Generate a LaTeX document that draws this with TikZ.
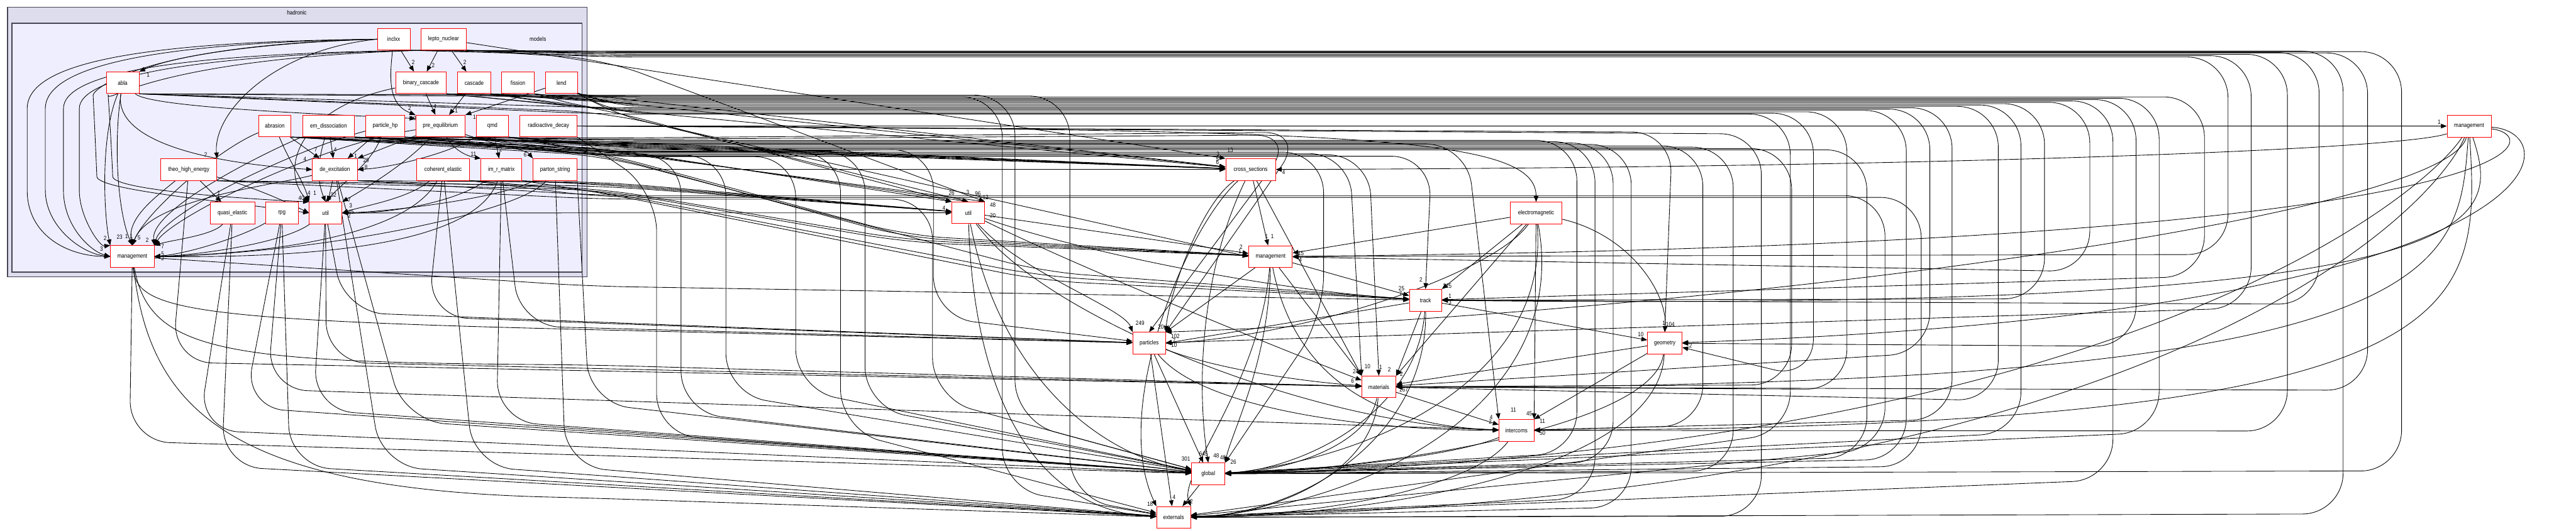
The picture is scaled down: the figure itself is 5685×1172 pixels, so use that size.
\documentclass[tikz,border=0pt]{standalone}
\usepackage{fontspec}
\setmainfont{Liberation Sans}
\newfontfamily\gfont[FakeStretch=0.85]{Liberation Sans}
\usetikzlibrary{arrows.meta}
\pgfdeclarelayer{bg}
\pgfdeclarelayer{edges}
\pgfsetlayers{bg,edges,main}
\definecolor{hadfill}{HTML}{DDDDEE}
\definecolor{modfill}{HTML}{EEEEFF}
\definecolor{clborder}{HTML}{444455}
\tikzset{
  dirnode/.style={draw=red, line width=1.2pt, fill=white, minimum height=48pt, inner sep=0pt, font=\gfont\fontsize{13.3}{15}\selectfont},
  dep/.style={draw=black, line width=1.2pt, -{Triangle[length=13pt,width=10pt]}, rounded corners=90pt},
  cnt/.style={font=\gfont\fontsize{13.3}{15}\selectfont, inner sep=0pt},
}
\newcommand\laneA[5]{\draw[dep] (#1) -- (1330,#2) -- (#3,#2) -- (#3,#4) -- (#5);}
\begin{document}
\begin{tikzpicture}[x=1pt,y=-1pt]
\useasboundingbox (0,0) rectangle (5685,1172);
\begin{pgfonlayer}{bg}
\fill[white] (0,0) rectangle (5685,1172);
\draw[fill=hadfill, draw=clborder, line width=1.8pt] (16.6,15.8) rectangle (1295.6,611);
\draw[fill=modfill, draw=clborder, line width=1.8pt] (26.5,51.4) rectangle (1284.8,601);
\end{pgfonlayer}
\node[cnt] (tHad) at (655,28) {hadronic};
\node[cnt] (tMod) at (1187,86) {models};
% models nodes
\node[dirnode, minimum width=72pt] (ix) at (869,86.6) {inclxx};
\node[dirnode, minimum width=99pt] (ln) at (979,86.6) {lepto\_nuclear};
\node[dirnode, minimum width=72pt] (ab) at (270.7,182.7) {abla};
\node[dirnode, minimum width=112pt] (bc) at (929,182.7) {binary\_cascade};
\node[dirnode, minimum width=73pt] (ca) at (1046.5,182.7) {cascade};
\node[dirnode, minimum width=72pt] (fi) at (1143,182.7) {fission};
\node[dirnode, minimum width=71pt] (le) at (1239,182.7) {lend};
\node[dirnode, minimum width=72pt] (as) at (606.5,278.3) {abrasion};
\node[dirnode, minimum width=115pt] (ed) at (725,278.3) {em\_dissociation};
\node[dirnode, minimum width=85pt] (hp) at (850,278.3) {particle\_hp};
\node[dirnode, minimum width=109pt] (pe) at (972,278.3) {pre\_equilibrium};
\node[dirnode, minimum width=72pt] (qm) at (1086.6,278.3) {qmd};
\node[dirnode, minimum width=126pt] (rd) at (1210.6,278.3) {radioactive\_decay};
\node[dirnode, minimum width=123pt] (th) at (416.7,374.5) {theo\_high\_energy};
\node[dirnode, minimum width=99pt] (de) at (739,374.5) {de\_excitation};
\node[dirnode, minimum width=117pt] (ce) at (978,374.5) {coherent\_elastic};
\node[dirnode, minimum width=90pt] (im) at (1106.6,374.5) {im\_r\_matrix};
\node[dirnode, minimum width=97pt] (ps) at (1225,374.5) {parton\_string};
\node[dirnode, minimum width=99pt] (qe) at (513,470.4) {quasi\_elastic};
\node[dirnode, minimum width=72pt] (rp) at (622,470.4) {rpg};
\node[dirnode, minimum width=72pt] (um) at (718.5,470.4) {util};
\node[dirnode, minimum width=96pt] (mm) at (292,566.5) {management};
% outer nodes
\node[dirnode, minimum width=72pt] (uh) at (2137,470) {util};
\node[dirnode, minimum width=110pt] (xs) at (2760,374.5) {cross\_sections};
\node[dirnode, minimum width=96pt] (mh) at (2804,566.7) {management};
\node[dirnode, minimum width=114pt] (em) at (3390,470.6) {electromagnetic};
\node[dirnode, minimum width=71pt] (tr) at (3146,663) {track};
\node[dirnode, minimum width=72pt] (pa) at (2536,758) {particles};
\node[dirnode, minimum width=76pt] (ge) at (3674,758) {geometry};
\node[dirnode, minimum width=75pt] (ma) at (3043,854.4) {materials};
\node[dirnode, minimum width=77pt] (ic) at (3346.6,950.5) {intercoms};
\node[dirnode, minimum width=73pt] (gl) at (2666.5,1046.5) {global};
\node[dirnode, minimum width=75pt] (ex) at (2590,1142.7) {externals};
\node[dirnode, minimum width=97pt] (mp) at (5449,278.5) {management};
\begin{pgfonlayer}{edges}
% ---- internal edges
\draw[dep] (ix.west) .. controls (560,95) and (380,125) .. (ab.north east);
\draw[dep] (ix) -- (bc);
\draw[dep] (ln) -- (bc);
\draw[dep] (ln) -- (ca);
\draw[dep] (ix) .. controls (860,170) and (855,230) .. (pe.north west);
\draw[dep] (ab) .. controls (330,235) and (650,250) .. ([yshift=-8pt]pe.north west);
\draw[dep] (bc) -- (pe);
\draw[dep] (ca) -- (pe);
\draw[dep] (le) -- (pe.north east);
\draw[dep] (as) -- (de);
\draw[dep] (ed) -- (de);
\draw[dep] (hp) -- (de);
\draw[dep] (pe) -- (de.north east);
\draw[dep] (qm) .. controls (1000,335) and (870,370) .. (de.east);
\draw[dep] (qm) -- (im);
\draw[dep] (pe) .. controls (1000,330) and (1030,345) .. (im.north west);
\draw[dep] (pe) .. controls (1100,322) and (1160,330) .. (ps.north west);
\draw[dep] (th) -- (qe);
\draw[dep] (ix.west) .. controls (600,110) and (470,250) .. (th.north east);
\draw[dep] (ab) .. controls (250,310) and (450,360) .. (de.west);
% into models/util
\draw[dep] (de) -- (um);
\draw[dep] (as) .. controls (640,360) and (670,400) .. (um.north west);
\draw[dep] (ed) .. controls (700,360) and (700,400) .. (um.north);
\draw[dep] (pe) .. controls (900,360) and (800,420) .. (um.north east);
\draw[dep] (ce) .. controls (900,440) and (800,455) .. (um.east);
\draw[dep] (ps) .. controls (1100,440) and (850,468) .. (um.east);
\draw[dep] (im) .. controls (1000,450) and (850,472) .. (um.east);
\draw[dep] (ix.west) .. controls (300,100) and (205,200) .. (210,300) .. controls (215,420) and (500,445) .. (um.west);
\draw[dep] (ln.south west) .. controls (330,130) and (240,230) .. (245,300) .. controls (250,420) and (550,440) .. (um.north west);
\draw[dep] (th) .. controls (550,410) and (620,440) .. (um.west);
\draw[dep] (hp) .. controls (820,360) and (760,400) .. (um.north);
\draw[dep] (bc) .. controls (650,240) and (620,380) .. (um.north west);
% into models/management
\draw[dep] (ix.west) .. controls (300,92) and (60,140) .. (60,330) .. controls (60,520) and (150,566) .. (mm.west);
\draw[dep] (ix.west) .. controls (320,95) and (100,150) .. (100,330) .. controls (100,500) and (180,560) .. (mm.west);
\draw[dep] (ln.south west) .. controls (400,118) and (140,160) .. (140,330) .. controls (140,500) and (200,555) .. (mm.west);
\draw[dep] (ln.south west) .. controls (420,122) and (175,170) .. (175,330) .. controls (175,480) and (220,545) .. (mm.north west);
\draw[dep] (ab) .. controls (220,300) and (230,480) .. (mm.north west);
\draw[dep] (ab) .. controls (250,320) and (260,470) .. (mm.north);
\draw[dep] (th) .. controls (350,430) and (280,480) .. (mm.north);
\draw[dep] (qe) .. controls (470,520) and (380,530) .. (mm.north east);
\draw[dep] (rp) .. controls (540,520) and (420,560) .. (mm.east);
\draw[dep] (um) .. controls (620,540) and (420,565) .. (mm.east);
\draw[dep] (de) .. controls (600,410) and (330,440) .. (mm.north);
\draw[dep] (as) .. controls (480,330) and (320,470) .. (mm.north);
\draw[dep] (ed) .. controls (600,330) and (330,460) .. (mm.north east);
\draw[dep] (hp) .. controls (650,330) and (360,470) .. (mm.north east);
\draw[dep] (pe) .. controls (700,320) and (380,480) .. (mm.north east);
\draw[dep] (ps) .. controls (1150,470) and (700,560) .. (mm.east);
\draw[dep] (ce) .. controls (900,520) and (600,560) .. (mm.east);
\draw[dep] (im) .. controls (1050,540) and (700,570) .. (mm.east);
% ---- row 1 to far right
\laneA{ix.south east}{114}{5300}{1040}{gl}
\laneA{ix.south east}{117}{5225}{862}{ma}
\laneA{ln.south east}{113}{5171}{1135}{ex}
\laneA{ln.south east}{116}{5118}{672}{tr}
\laneA{ln.south east}{120}{5048}{952}{ic}
\laneA{ix.south east}{123}{4968}{680}{pa}
\laneA{ln.south east}{126}{4917}{562}{mh}
\draw[dep] (ln) -- (xs.north west);
\draw[dep] (ln.south east) -- (1330,130) -- (uh.north east);
% ---- row 2
\laneA{ab.south east}{214}{4865}{610}{tr}
\laneA{bc.south east}{217}{4765}{955}{gl}
\laneA{bc.south east}{220}{4714}{765}{ge}
\laneA{ca.south east}{223}{4663}{1060}{ex}
\laneA{ca.south east}{226}{4612}{600}{mh}
\laneA{fi.south east}{229}{4512}{660}{tr}
\laneA{le.south east}{232}{4460}{956}{gl}
\laneA{le.south east}{235}{4410}{885}{ma}
\laneA{ab.south east}{238}{4308}{926}{ic}
\laneA{bc.south east}{241}{4259}{779}{ma}
\laneA{ca.south east}{244}{4207}{1014}{gl}
\laneA{fi.south east}{247}{4076}{860}{ma}
\laneA{le.south east}{250}{4002}{838}{ge}
\laneA{ab.south east}{252}{3951}{955}{ex}
\draw[dep] (bc.south east) -- (xs);
\draw[dep] (fi.south east) -- (xs);
\draw[dep] (le.south east) -- (xs);
\draw[dep] (ca.south east) -- (1330,240) -- (uh.north west);
\draw[dep] (le.south east) -- (1330,245) -- (uh.north);
\draw[dep] (ab.south east) -- (1330,248) -- (mh.west);
\laneA{ab.south east}{210}{2240}{930}{gl}
\laneA{bc.south east}{212}{2361}{1100}{ex}
\laneA{ca.south east}{214}{2212}{1080}{ex}
% ---- row 3
\draw[dep] (rd) -- (mp);
\draw[dep] (rd.east) .. controls (3000,285) and (3390,300) .. (em.north);
\draw[dep] (rd.east) -- (3691,292) -- (ge.north);
\draw[dep] (rd.east) -- (3887,296) -- (3887,1140) -- (ex);
\draw[dep] (rd.south east) -- (1449,420) -- (1449,960) -- (gl);
\draw[dep] (as.south east) -- (1330,312) -- (xs);
\draw[dep] (ed.south east) -- (1330,315) -- (xs);
\draw[dep] (hp.south east) -- (1330,318) -- (xs);
\draw[dep] (pe.south east) -- (1330,321) -- (xs);
\draw[dep] (qm.south east) -- (1330,324) -- (xs);
\draw[dep] (as.south east) -- (1330,327) -- (uh.north west);
\draw[dep] (pe.south east) -- (1330,330) -- (uh.north);
\draw[dep] (hp.south east) -- (1330,333) -- (uh.north east);
\draw[dep] (hp.south east) -- (1330,305) -- (2880,292) -- (pa.north east);
\draw[dep] (pe.south east) -- (1330,308) -- (2860,298) -- (pa.north);
\draw[dep] (qm.south east) -- (1330,336) -- (2921,336) -- (2921,700) -- (gl.north east);
\draw[dep] (as.south east) -- (1330,339) -- (2978,339) -- (ma.north west);
\draw[dep] (ed.south east) -- (1330,342) -- (3021,342) -- (ma.north);
\draw[dep] (hp.south east) -- (1330,345) -- (3160,345) -- (tr.north);
\draw[dep] (qm.south east) -- (1330,318) -- (3237,318) -- (ic.north west);
\laneA{pe.south east}{310}{3480}{1000}{gl}
\laneA{as.south east}{313}{3520}{1100}{ex}
\laneA{ed.south east}{316}{3560}{1020}{gl}
\laneA{hp.south east}{319}{3600}{1120}{ex}
\laneA{qm.south east}{322}{3758}{940}{ic}
\laneA{pe.south east}{325}{3825}{1040}{gl}
\laneA{ed.south east}{328}{3954}{850}{ma}
\laneA{as.south east}{331}{4120}{1010}{gl}
\laneA{qm.south east}{340}{1503}{910}{gl}
\laneA{hp.south east}{343}{1602}{870}{gl}
\laneA{pe.south east}{346}{1756}{860}{gl}
\laneA{ed.south east}{336}{1855}{950}{ex}
\laneA{as.south east}{334}{1909}{900}{gl}
\draw[dep] (pe.south east) -- (1330,338) -- (2000,520) -- (mh);
\draw[dep] (hp.south east) -- (1330,341) -- (2000,525) -- (mh);
\draw[dep] (as.south east) -- (1330,344) -- (2300,600) -- (tr);
\draw[dep] (ed.south east) -- (1330,337) -- (2060,330) -- (2060,700) -- (pa);
% ---- row 4
\draw[dep] (ps) -- (xs);
\draw[dep] (de.south east) -- (1330,402) -- (uh);
\draw[dep] (ce.south east) -- (1330,405) -- (uh);
\draw[dep] (im.south east) -- (1330,408) -- (uh);
\draw[dep] (th.south east) -- (1330,411) -- (uh);
\draw[dep] (de.south east) -- (1330,417) -- (2000,530) -- (mh);
\draw[dep] (th.south east) -- (1330,420) -- (2000,535) -- (mh);
\draw[dep] (ce.south east) -- (1330,423) -- (2300,610) -- (tr);
\draw[dep] (im.south east) -- (1330,426) -- (2300,620) -- (tr);
\laneA{de.south east}{432}{4160}{990}{ex}
\laneA{ce.south east}{436}{4240}{1030}{gl}
\laneA{th.south east}{440}{2058}{880}{gl}
% ---- bottom-left drops
\draw[dep] (mm) -- (286,975) -- (gl);
\draw[dep] (mm) .. controls (300,680) and (400,705) .. (1300,728) -- (pa);
\draw[dep] (mm) .. controls (330,780) and (500,800) .. (1300,806) -- (ma);
\draw[dep] (mm) -- (1300,632) -- (tr);
\draw[dep] (mm) .. controls (330,900) and (500,1080) .. (1300,1100) -- (ex);
\draw[dep] (qe) -- (438,950) -- (gl);
\draw[dep] (qe) -- (489,1030) -- (ex);
\draw[dep] (rp) -- (539,900) -- (gl);
\draw[dep] (rp) -- (640,1030) -- (ex);
\draw[dep] (um) -- (691,905) -- (gl);
\draw[dep] (de) -- (842,1030) -- (ex);
\draw[dep] (de) -- (893,930) -- (gl);
\draw[dep] (ce) -- (944,700) -- (pa);
\draw[dep] (ce) -- (1045,1030) -- (ex);
\draw[dep] (im) -- (1096,930) -- (gl);
\draw[dep] (im) -- (1147,720) -- (pa);
\draw[dep] (ps) -- (1248,1030) -- (ex);
\draw[dep] (ps.south east) -- (1300,890) -- (gl);
\draw[dep] (rp) -- (590,860) -- (ic);
\draw[dep] (um) -- (760,690) -- (pa);
\draw[dep] (um) -- (720,800) -- (ma);
\draw[dep] (um) -- (uh);
\draw[dep] (th) -- (380,800) -- (ma);
% ---- outer nodes
\draw[dep] (xs) -- (mh);
\draw[dep] (xs) .. controls (2650,450) and (2580,650) .. (pa.north east);
\draw[dep] (xs) -- (ma.north west);
\draw[dep] (xs) .. controls (2650,600) and (2640,850) .. (gl.north);
\draw[dep] (xs) .. controls (2620,500) and (2450,900) .. (ex.north west);
\draw[dep] (mh) -- (tr);
\draw[dep] (mh) -- (pa.north east);
\draw[dep] (mh) -- (ma.north west);
\draw[dep] (mh) .. controls (2800,800) and (2720,950) .. (gl.north east);
\draw[dep] (mh) .. controls (2850,800) and (3000,940) .. (ic);
\draw[dep] (mh) .. controls (2780,850) and (2600,1050) .. (ex.north east);
\draw[dep] (em) -- (mh);
\draw[dep] (em) -- (tr.north east);
\draw[dep] (em) .. controls (3300,600) and (2900,740) .. (pa.east);
\draw[dep] (em) -- (ma.north east);
\draw[dep] (em) -- (ic.north east);
\draw[dep] (em) .. controls (3600,520) and (3680,650) .. (ge.north);
\draw[dep] (em) .. controls (3420,800) and (3100,1000) .. (gl.east);
\draw[dep] (em) .. controls (3470,900) and (3000,1120) .. (ex.east);
\draw[dep] (tr) -- (ge);
\draw[dep] (tr) -- (ma.north east);
\draw[dep] (tr) -- (pa.east);
\draw[dep] (tr) .. controls (3130,900) and (2900,1030) .. (gl.east);
\draw[dep] (tr) .. controls (3150,950) and (2900,1130) .. (ex.east);
\draw[dep] (ma) -- (ic);
\draw[dep] (ma) .. controls (3020,980) and (2850,1040) .. (gl);
\draw[dep] (ma) .. controls (3030,1050) and (2800,1140) .. (ex);
\draw[dep] (ge) -- (ma);
\draw[dep] (ge) -- (ic.north east);
\draw[dep] (ge) .. controls (3650,950) and (3000,1040) .. (gl);
\draw[dep] (ge) .. controls (3660,1050) and (3000,1140) .. (ex);
\draw[dep] (ic) .. controls (3200,1010) and (2900,1040) .. (gl);
\draw[dep] (ic) .. controls (3250,1080) and (2900,1140) .. (ex);
\draw[dep] (pa) .. controls (2700,820) and (2900,845) .. (ma);
\draw[dep] (pa) .. controls (2650,900) and (3000,950) .. (ic);
\draw[dep] (pa) -- (gl);
\draw[dep] (pa) -- (ex);
\draw[dep] (gl) -- (ex);
\draw[dep] (uh) .. controls (2250,600) and (2480,680) .. (pa.north west);
\draw[dep] (uh) .. controls (2200,800) and (2400,1000) .. (gl);
\draw[dep] (uh) .. controls (2150,900) and (2300,1130) .. (ex);
\draw[dep] (uh) .. controls (2400,600) and (2900,800) .. (ma);
\draw[dep] (uh) -- (mh);
\draw[dep] (uh) .. controls (2400,560) and (2800,640) .. (tr);
\draw[dep] (uh) .. controls (2300,700) and (2900,940) .. (ic);
% ---- process management
\draw[dep] (mp) .. controls (5676,290) and (5676,690) .. (ge);
\draw[dep] (mp) .. controls (5625,300) and (5625,540) .. (mh);
\draw[dep] (mp) .. controls (5522,500) and (5522,690) .. (tr);
\draw[dep] (mp) .. controls (5474,700) and (5474,944) .. (ic);
\draw[dep] (mp) .. controls (5425,600) and (5425,860) .. (ma);
\draw[dep] (mp) .. controls (5380,450) and (4800,1100) .. (ex);
\draw[dep] (mp) .. controls (5360,420) and (4700,1000) .. (gl);
\draw[dep] (mp) .. controls (5300,330) and (4300,370) .. (xs);
\draw[dep] (mp) .. controls (5400,480) and (3800,690) .. (pa.north east);
\end{pgfonlayer}
% ---- edge labels
\foreach \lx/\ly/\lt [count=\i] in {
327/166/1, 912/138/2, 956/145/2, 1026/138/2, 904/239/2, 912/261/10, 960/235/4, 1007/245/1, 1047/259/1,
697/330/7, 740/330/4, 785/344/1, 808/354/29, 808/370/8, 673/352/4,
1105/330/2, 1045/340/11, 1159/342/6, 454/342/2, 483/426/1,
682/427/4, 695/426/1, 736/430/32, 665/437/40, 771/441/7, 774/454/3, 775/468/45, 771/476/2,
232/526/2, 264/523/23, 279/522/1, 290/522/1, 307/525/5, 325/531/2, 359/544/7, 224/550/3, 359/561/5, 359/571/2,
2715/332/13, 2688/341/3, 2687/351/5, 2687/358/6, 2833/380/4,
2795/522/1, 2808/522/1, 2739/546/2, 2736/556/1, 2871/560/15, 2870/573/4,
3136/618/2, 3093/638/25, 3091/649/7, 3194/632/225, 3200/654/1, 3200/668/3,
2516/713/249, 2562/722/20, 2574/724/14, 2594/743/102, 2591/752/7, 2591/762/10,
3621/738/10, 3672/713/1, 3686/716/104, 3731/764/2,
3018/809/10, 3047/811/1, 3066/817/2, 3093/826/2, 2992/820/24, 2985/842/6, 3098/861/267,
3340/905/11, 3375/914/45, 3291/922/4, 3289/932/2, 3404/930/11, 3404/956/50,
2617/1014/301, 2656/1002/645, 2684/1006/48, 2699/1011/48, 2722/1020/26,
2591/1098/4, 2626/1108/32, 2538/1114/18,
5383/270/1,
2100/427/26, 2136/425/3, 2158/428/96, 2175/436/12, 2191/453/48, 2191/476/20, 2083/459/4}
  \node[cnt] (lab\i) at (\lx,\ly) {\lt};
\end{tikzpicture}
\end{document}
